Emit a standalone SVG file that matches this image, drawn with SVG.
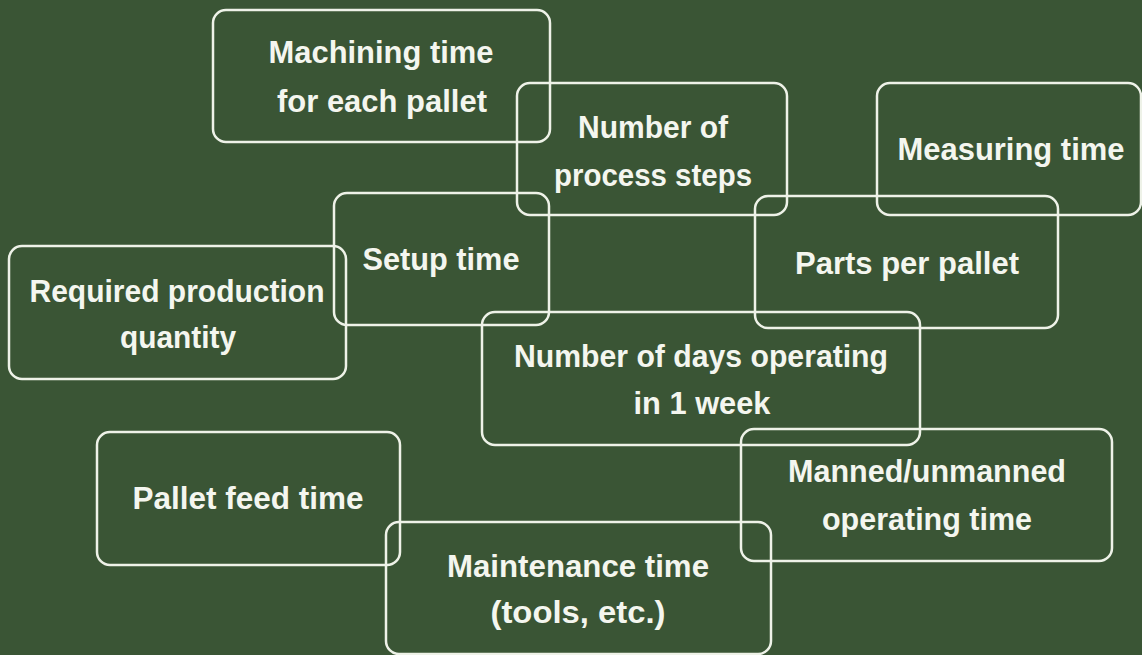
<svg xmlns="http://www.w3.org/2000/svg" width="1142" height="655" viewBox="0 0 1142 655">
<style>
.b{fill:none;stroke:#eef2e8;stroke-width:2.5}
.t{fill:#f4f6ef;font-family:"Liberation Sans",Arial,sans-serif;font-weight:bold;font-size:32px;text-anchor:middle}
</style>
<rect width="1142" height="655" fill="#3a5535"/>
<g id="n1"><rect class="b" x="213" y="10" width="337" height="132" rx="13"/><text class="t" x="381" y="63" textLength="225" lengthAdjust="spacingAndGlyphs">Machining time</text><text class="t" x="382" y="112" textLength="210" lengthAdjust="spacingAndGlyphs">for each pallet</text></g>
<g id="n2"><rect class="b" x="517" y="83" width="270" height="132" rx="13"/><text class="t" x="653" y="138" textLength="150" lengthAdjust="spacingAndGlyphs">Number of</text><text class="t" x="653" y="186" textLength="198" lengthAdjust="spacingAndGlyphs">process steps</text></g>
<g id="n3"><rect class="b" x="877" y="83" width="264" height="132" rx="13"/><text class="t" x="1011" y="160" textLength="227" lengthAdjust="spacingAndGlyphs">Measuring time</text></g>
<g id="n4"><rect class="b" x="334" y="193" width="215" height="132" rx="13"/><text class="t" x="441" y="270" textLength="157" lengthAdjust="spacingAndGlyphs">Setup time</text></g>
<g id="n5"><rect class="b" x="755" y="196" width="303" height="132" rx="13"/><text class="t" x="907" y="274" textLength="224" lengthAdjust="spacingAndGlyphs">Parts per pallet</text></g>
<g id="n6"><rect class="b" x="9" y="246" width="337" height="133" rx="13"/><text class="t" x="177" y="302" textLength="295" lengthAdjust="spacingAndGlyphs">Required production</text><text class="t" x="178" y="348" textLength="116" lengthAdjust="spacingAndGlyphs">quantity</text></g>
<g id="n7"><rect class="b" x="482" y="312" width="438" height="133" rx="13"/><text class="t" x="701" y="367" textLength="374" lengthAdjust="spacingAndGlyphs">Number of days operating</text><text class="t" x="702" y="414" textLength="137" lengthAdjust="spacingAndGlyphs">in 1 week</text></g>
<g id="n8"><rect class="b" x="97" y="432" width="303" height="133" rx="13"/><text class="t" x="248" y="509" textLength="231" lengthAdjust="spacingAndGlyphs">Pallet feed time</text></g>
<g id="n9"><rect class="b" x="741" y="429" width="371" height="132" rx="13"/><text class="t" x="927" y="482" textLength="278" lengthAdjust="spacingAndGlyphs">Manned/unmanned</text><text class="t" x="927" y="530" textLength="210" lengthAdjust="spacingAndGlyphs">operating time</text></g>
<g id="n10"><rect class="b" x="386" y="522" width="385" height="132" rx="13"/><text class="t" x="578" y="577" textLength="262" lengthAdjust="spacingAndGlyphs">Maintenance time</text><text class="t" x="578" y="623" textLength="175" lengthAdjust="spacingAndGlyphs">(tools, etc.)</text></g>
<g id="connectors"></g>
</svg>
